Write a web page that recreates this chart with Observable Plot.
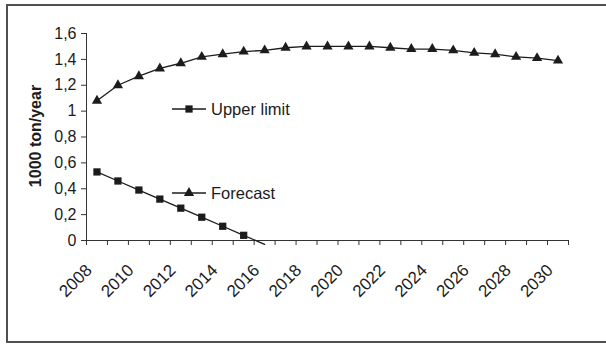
<!DOCTYPE html>
<html>
<head>
<meta charset="utf-8">
<script src="https://cdn.jsdelivr.net/npm/d3@7"></script>
<script src="https://cdn.jsdelivr.net/npm/@observablehq/plot@0.6"></script>
<style>
  html, body { margin: 0; padding: 0; background: #fff; overflow: hidden; }
  #wrap { position: relative; width: 606px; height: 345px; overflow: hidden; background: #fff; }
  #frame { position: absolute; left: 6px; top: 4px; width: 720px; height: 335px; border: 2px solid #505050; }
  #chart, #overlay { position: absolute; left: 0; top: 0; }
  #chart svg { display: block; }
</style>
</head>
<body>
<div id="wrap">
  <div id="frame"></div>
  <div id="chart"></div>
  <svg id="overlay" width="606" height="345"></svg>
</div>
<script>
// ---- data ----
const years = [2008, 2009, 2010, 2011, 2012, 2013, 2014, 2015, 2016, 2017, 2018, 2019,
               2020, 2021, 2022, 2023, 2024, 2025, 2026, 2027, 2028, 2029, 2030];
const forecast = [1.08, 1.20, 1.27, 1.33, 1.37, 1.42, 1.44, 1.46, 1.47, 1.49, 1.50, 1.50,
                  1.50, 1.50, 1.49, 1.48, 1.48, 1.47, 1.45, 1.44, 1.42, 1.41, 1.39];
const upperLimitYears = [2008, 2009, 2010, 2011, 2012, 2013, 2014, 2015, 2016];
const upperLimit = [0.53, 0.46, 0.39, 0.32, 0.25, 0.18, 0.11, 0.04, -0.03];
const xLabelYears = [2008, 2010, 2012, 2014, 2016, 2018, 2020, 2022, 2024, 2026, 2028, 2030];
const yTicks = [0, 0.2, 0.4, 0.6, 0.8, 1, 1.2, 1.4, 1.6];
const yTickLabels = ["0", "0,2", "0,4", "0,6", "0,8", "1", "1,2", "1,4", "1,6"];
const legendLabels = ["Upper limit", "Forecast"];
const yTitle = "1000 ton/year";

// ---- derived tables ----
const forecastData = years.map((year, i) => ({year, value: forecast[i]}));
const upperData = upperLimitYears.map((year, i) => ({year, value: upperLimit[i]}));
const boundaries = [...years.map(y => y - 0.5), years[years.length - 1] + 0.5];

const ink = "#1c1c1c";
const axisInk = "#333";
const fontFamily = "'Liberation Sans', Arial, Helvetica, sans-serif";

const chart = Plot.plot({
  width: 606,
  height: 345,
  marginLeft: 86,
  marginRight: 38,
  marginTop: 33,
  marginBottom: 105,
  x: {domain: [boundaries[0], boundaries[boundaries.length - 1]], axis: null},
  y: {domain: [0, 1.6], axis: null},
  style: {fontFamily, fontSize: "16px", color: ink, background: "transparent", overflow: "visible"},
  marks: [
    Plot.ruleX([boundaries[0]], {stroke: axisInk, strokeWidth: 1}),
    Plot.axisY({ticks: yTicks, tickFormat: d => yTickLabels[yTicks.indexOf(d)], label: null,
                tickSize: 5, tickPadding: 5, fontSize: 16, stroke: axisInk, fill: ink}),
    Plot.ruleY([0], {stroke: axisInk, strokeWidth: 1}),
    Plot.axisX({ticks: boundaries, tickFormat: () => "", label: null, tickSize: 5, stroke: axisInk}),
    Plot.axisX({ticks: xLabelYears, tickFormat: d => String(d), label: null, tickSize: 0, tickPadding: 0,
                tickRotate: -45, dx: -8, dy: 27, fontSize: 17, fill: ink}),
    Plot.line(forecastData, {x: "year", y: "value", stroke: ink, strokeWidth: 1.3}),
    Plot.dot(forecastData, {x: "year", y: "value", symbol: "triangle", r: 3.8, fill: ink, stroke: "none"}),
    Plot.line(upperData, {x: "year", y: "value", stroke: ink, strokeWidth: 1.3}),
    Plot.dot(upperData.filter(d => d.value >= 0), {x: "year", y: "value", symbol: "square", r: 4.1, fill: ink, stroke: "none"})
  ]
});
document.getElementById("chart").appendChild(chart);

// ---- legend and y title overlay ----
const ov = d3.select("#overlay").style("font-family", fontFamily);
const legendItems = [
  {label: legendLabels[0], symbol: d3.symbolSquare, size: 4.1 * 4.1 * Math.PI, y: 109},
  {label: legendLabels[1], symbol: d3.symbolTriangle, size: 3.8 * 3.8 * Math.PI, y: 193}
];
legendItems.forEach(it => {
  const g = ov.append("g");
  g.append("line").attr("x1", 172).attr("x2", 206).attr("y1", it.y).attr("y2", it.y)
    .attr("stroke", ink).attr("stroke-width", 1.3);
  g.append("path").attr("d", d3.symbol(it.symbol, it.size)())
    .attr("transform", `translate(189,${it.y})`).attr("fill", ink);
  g.append("text").attr("x", 211).attr("y", it.y + 5.8)
    .attr("font-size", 16.5).attr("fill", ink).text(it.label);
});
ov.append("text")
  .attr("transform", "translate(40.5,136) rotate(-90)")
  .attr("text-anchor", "middle")
  .attr("font-size", 16).attr("font-weight", "bold").attr("fill", ink)
  .text(yTitle);
</script>
</body>
</html>
